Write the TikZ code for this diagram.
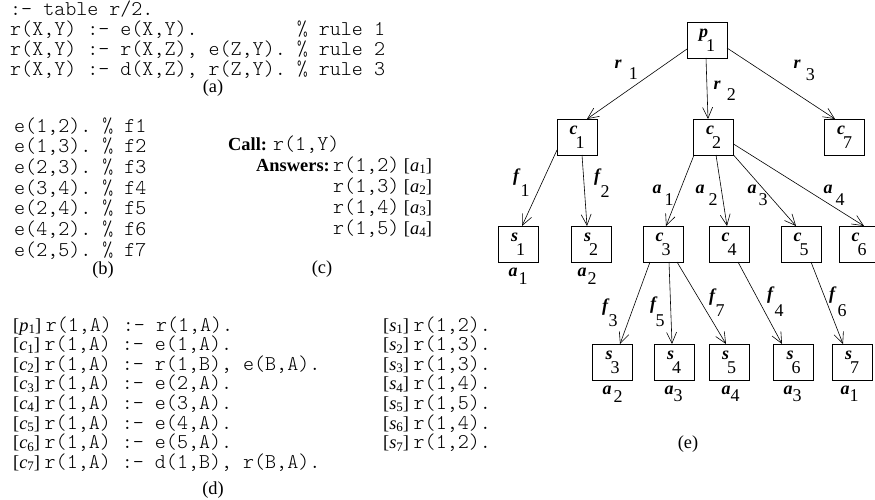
\documentclass[tikz,border=0pt]{standalone}
\usepackage{fontspec}
\setmainfont{Liberation Serif}
\setmonofont{Latin Modern Mono Light}
\usetikzlibrary{arrows.meta}
\newcommand\ms[2]{\textit{#1}\raisebox{-0.3ex}{\fontsize{13}{14}\selectfont #2}}
\newcommand\tn[2]{\textbf{\textit{#1}}\kern-2pt\raisebox{-14pt}{#2}}
\newcommand\el[4]{\textbf{\textit{#1}}\kern#3pt\raisebox{-#4pt}{#2}}
\newcommand\cd{\fontsize{21}{20}\ttfamily}
\begin{document}
\begin{tikzpicture}[x=1pt,y=-1pt,
  code/.style={anchor=base west, inner sep=0pt, font=\cd},
  mixed/.style={anchor=base west, inner sep=0pt, font=\fontsize{18.4}{20}\rmfamily},
  caption/.style={anchor=base, inner sep=0pt, font=\fontsize{18.4}{20}\rmfamily},
  box/.style={draw, line width=0.8pt, minimum width=40pt, minimum height=36pt, inner sep=0pt, font=\fontsize{18}{20}\selectfont},
  lbl/.style={anchor=base west, inner sep=0pt, font=\fontsize{18}{20}\selectfont},
  arr/.style={-{Straight Barb[length=11pt,width=10pt]}, line width=0.6pt}]
\fill[white] (0,0) rectangle (875,500);
\useasboundingbox (0,0) rectangle (875,500);
% (a)
\node[code] (a0) at (10,15.5) {:- table r/2.};
\node[code] (a1) at (10,35.3) {r(X,Y) :- e(X,Y).\hphantom{xxxxxxxxx}\% rule 1};
\node[code] (a2) at (10,55.3) {r(X,Y) :- r(X,Z), e(Z,Y). \% rule 2};
\node[code] (a3) at (10,75.3) {r(X,Y) :- d(X,Z), r(Z,Y). \% rule 3};
\node[caption] (capa) at (213,93) {(a)};
% (b)
\node[code] (b1) at (14,132) {e(1,2). \% f1};
\node[code] (b2) at (14,152.7) {e(1,3). \% f2};
\node[code] (b3) at (14,173.4) {e(2,3). \% f3};
\node[code] (b4) at (14,194.1) {e(3,4). \% f4};
\node[code] (b5) at (14,214.8) {e(2,4). \% f5};
\node[code] (b6) at (14,235.5) {e(4,2). \% f6};
\node[code] (b7) at (14,256.2) {e(2,5). \% f7};
\node[caption] (capb) at (103,274) {(b)};
% (c)
\node[mixed] (call) at (228,150) {\textbf{Call:} {\cd r(1,Y)}};
\node[caption, anchor=base east] (ans) at (330,171) {\textbf{Answers:}};
\node[mixed] (ans1) at (333,171) {{\cd r(1,2)} [\ms{a}{1}]};
\node[mixed] (ans2) at (333,192) {{\cd r(1,3)} [\ms{a}{2}]};
\node[mixed] (ans3) at (333,213) {{\cd r(1,4)} [\ms{a}{3}]};
\node[mixed] (ans4) at (333,234) {{\cd r(1,5)} [\ms{a}{4}]};
\node[caption] (capc) at (322,273) {(c)};
% (d)
\node[mixed] (d1) at (13,331) {[\ms{p}{1}] {\cd r(1,A) :- r(1,A).}};
\node[mixed] (d2) at (13,350.6) {[\ms{c}{1}] {\cd r(1,A) :- e(1,A).}};
\node[mixed] (d3) at (13,370.2) {[\ms{c}{2}] {\cd r(1,A) :- r(1,B), e(B,A).}};
\node[mixed] (d4) at (13,389.8) {[\ms{c}{3}] {\cd r(1,A) :- e(2,A).}};
\node[mixed] (d5) at (13,409.4) {[\ms{c}{4}] {\cd r(1,A) :- e(3,A).}};
\node[mixed] (d6) at (13,429) {[\ms{c}{5}] {\cd r(1,A) :- e(4,A).}};
\node[mixed] (d7) at (13,448.6) {[\ms{c}{6}] {\cd r(1,A) :- e(5,A).}};
\node[mixed] (d8) at (13,468.2) {[\ms{c}{7}] {\cd r(1,A) :- d(1,B), r(B,A).}};
\node[mixed] (e1) at (383,331) {[\ms{s}{1}] {\cd r(1,2).}};
\node[mixed] (e2) at (383,350.6) {[\ms{s}{2}] {\cd r(1,3).}};
\node[mixed] (e3) at (383,370.2) {[\ms{s}{3}] {\cd r(1,3).}};
\node[mixed] (e4) at (383,389.8) {[\ms{s}{4}] {\cd r(1,4).}};
\node[mixed] (e5) at (383,409.4) {[\ms{s}{5}] {\cd r(1,5).}};
\node[mixed] (e6) at (383,429) {[\ms{s}{6}] {\cd r(1,4).}};
\node[mixed] (e7) at (383,448.6) {[\ms{s}{7}] {\cd r(1,2).}};
\node[caption] (capd) at (213,494) {(d)};
% (e) tree
\node[box] (p1) at (707,40) {\tn{p}{1}};
\node[box] (c1) at (577,137) {\tn{c}{1}};
\node[box] (c2) at (713.5,137) {\tn{c}{2}};
\node[box] (c7) at (844.5,137) {\tn{c}{7}};
\node[box] (s1) at (518,244) {\tn{s}{1}};
\node[box] (s2) at (591,244) {\tn{s}{2}};
\node[box] (c3) at (663,244) {\tn{c}{3}};
\node[box] (c4) at (729,244) {\tn{c}{4}};
\node[box] (c5) at (801,244) {\tn{c}{5}};
\node[box] (c6) at (859,244) {\tn{c}{6}};
\node[box] (s3) at (612.5,362) {\tn{s}{3}};
\node[box] (s4) at (674,362) {\tn{s}{4}};
\node[box] (s5) at (729,362) {\tn{s}{5}};
\node[box] (s6) at (793.5,362) {\tn{s}{6}};
\node[box] (s7) at (852,362) {\tn{s}{7}};
% edges
\draw[arr] ([shift={(-20,9)}]p1.center) -- ([shift={(10,-18)}]c1.center);
\draw[arr] ([shift={(-1,18)}]p1.center) -- ([shift={(-5.5,-18)}]c2.center);
\draw[arr] ([shift={(20,8)}]p1.center) -- ([shift={(-9.5,-18)}]c7.center);
\draw[arr] ([shift={(-20,13)}]c1.center) -- ([shift={(4,-18)}]s1.center);
\draw[arr] ([shift={(5,18)}]c1.center) -- ([shift={(-4,-18)}]s2.center);
\draw[arr] ([shift={(-19.5,18)}]c2.center) -- ([shift={(3,-18)}]c3.center);
\draw[arr] ([shift={(2.5,18)}]c2.center) -- ([shift={(-2,-18)}]c4.center);
\draw[arr] ([shift={(20,18)}]c2.center) -- ([shift={(-5,-18)}]c5.center);
\draw[arr] ([shift={(20,7)}]c2.center) -- ([shift={(5,-18)}]c6.center);
\draw[arr] ([shift={(-13,18)}]c3.center) -- ([shift={(7.5,-18)}]s3.center);
\draw[arr] ([shift={(6,18)}]c3.center) -- ([shift={(-2,-18)}]s4.center);
\draw[arr] ([shift={(14,18)}]c3.center) -- ([shift={(-3,-18)}]s5.center);
\draw[arr] ([shift={(9,18)}]c4.center) -- ([shift={(-11.5,-18)}]s6.center);
\draw[arr] ([shift={(10,18)}]c5.center) -- ([shift={(-9,-18)}]s7.center);
% edge labels
\node[lbl] (lr1) at (614.5,69) {\el{r}{1}{7}{11}};
\node[lbl] (lr2) at (713.5,90) {\el{r}{2}{6}{11}};
\node[lbl] (lr3) at (793.5,69) {\el{r}{3}{5}{12}};
\node[lbl] (lf1) at (513,181) {\el{f}{1}{0}{15}};
\node[lbl] (lf2) at (594,181) {\el{f}{2}{-1}{17}};
\node[lbl] (la1) at (652.5,193) {\el{a}{1}{3}{12}};
\node[lbl] (la2) at (695.5,193) {\el{a}{2}{4}{12}};
\node[lbl] (la3) at (747.5,193) {\el{a}{3}{2}{12}};
\node[lbl] (la4) at (823.5,193) {\el{a}{4}{3}{12}};
\node[lbl] (lf3) at (602,311) {\el{f}{3}{-1}{15}};
\node[lbl] (lf5) at (650,309) {\el{f}{5}{-2}{17}};
\node[lbl] (lf7) at (709,301) {\el{f}{7}{-1}{15}};
\node[lbl] (lf4) at (767,299) {\el{f}{4}{0}{17}};
\node[lbl] (lf6) at (829,299) {\el{f}{6}{1}{17}};
% answer labels under leaves
\node[lbl] (u1) at (508.5,276) {\el{a}{1}{1}{8}};
\node[lbl] (u2) at (577.5,276) {\el{a}{2}{1}{8}};
\node[lbl] (u3) at (602.5,394) {\el{a}{2}{2}{8}};
\node[lbl] (u4) at (664.5,394) {\el{a}{3}{0}{7}};
\node[lbl] (u5) at (721.5,394) {\el{a}{4}{0}{7}};
\node[lbl] (u6) at (783.5,394) {\el{a}{3}{0}{7}};
\node[lbl] (u7) at (840.5,394) {\el{a}{1}{0}{7}};
\node[caption] (cape) at (688,448) {(e)};
\end{tikzpicture}
\end{document}
